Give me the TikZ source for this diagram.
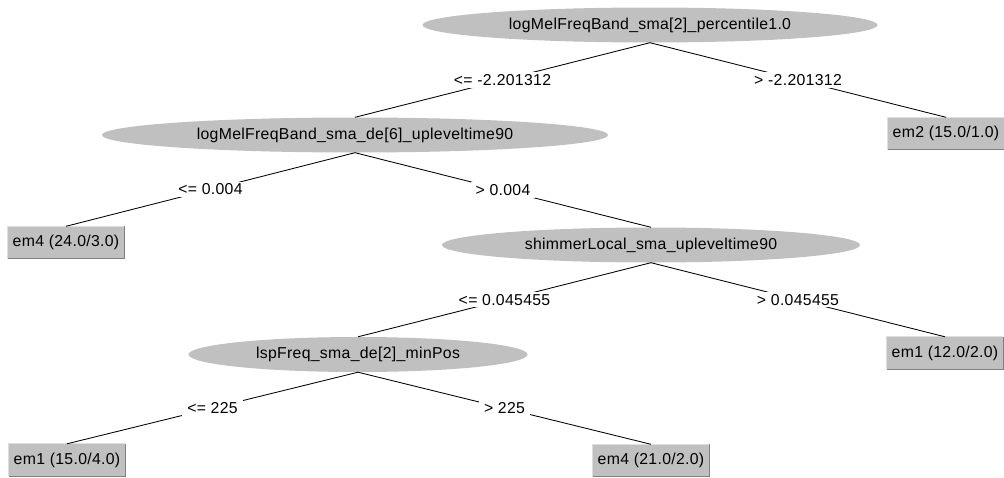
\documentclass[tikz,border=0pt]{standalone}
\usepackage{fontspec}
\setmainfont{Liberation Sans}[LetterSpace=2]
\usetikzlibrary{shapes.geometric}
\definecolor{nodegray}{RGB}{192,192,192}
\definecolor{edgelight}{RGB}{222,222,222}
\definecolor{edgedark}{RGB}{128,128,128}
\begin{document}
\begin{tikzpicture}[x=1pt,y=-1pt,
  every node/.style={font=\fontsize{15.8}{18}\selectfont},
  split/.style={ellipse,fill=nodegray,inner sep=0pt,minimum height=35pt},
  leaf/.style={rectangle,fill=nodegray,inner sep=0pt,minimum height=32pt,minimum width=116pt},
  branch/.style={draw=black,line width=0.85pt},
  cond/.style={fill=white,inner xsep=5pt,inner ysep=2pt}]
\useasboundingbox[fill=white] (0,0) rectangle (1004,477);

% decision nodes
\node[split,minimum width=455pt] (root) at (650,25) {logMelFreqBand\_sma[2]\_percentile1.0};
\node[split,minimum width=506pt] (band) at (355,135) {logMelFreqBand\_sma\_de[6]\_upleveltime90};
\node[split,minimum width=418pt] (shim) at (651,245) {shimmerLocal\_sma\_upleveltime90};
\node[split,minimum width=339pt] (lsp)  at (358,354.5) {lspFreq\_sma\_de[2]\_minPos};

% leaves
\node[leaf] (emA) at (946,133.5) {em2 (15.0/1.0)};
\node[leaf] (emB) at (66,242.5) {em4 (24.0/3.0)};
\node[leaf] (emC) at (945,353) {em1 (12.0/2.0)};
\node[leaf] (emD) at (67,460) {em1 (15.0/4.0)};
\node[leaf] (emE) at (651,460.5) {em4 (21.0/2.0)};

% raised borders of the leaves
\foreach \n in {emA,emB,emC,emD,emE}{
  \draw[edgelight,line width=1pt] (\n.south west) |- (\n.north east);
  \draw[edgedark,line width=1pt] (\n.south west) -| (\n.north east);
}

% branches with their conditions
\draw[branch] (root.south) -- node[cond] {<= -2.201312} (band.north);
\draw[branch] (root.south) -- node[cond] {> -2.201312} (emA.north);
\draw[branch] (band.south) -- node[cond] {<= 0.004} (emB.north);
\draw[branch] (band.south) -- node[cond] {> 0.004} (shim.north);
\draw[branch] (shim.south) -- node[cond] {<= 0.045455} (lsp.north);
\draw[branch] (shim.south) -- node[cond] {> 0.045455} (emC.north);
\draw[branch] (lsp.south) -- node[cond] {<= 225} (emD.north);
\draw[branch] (lsp.south) -- node[cond] {> 225} (emE.north);
\end{tikzpicture}
\end{document}
